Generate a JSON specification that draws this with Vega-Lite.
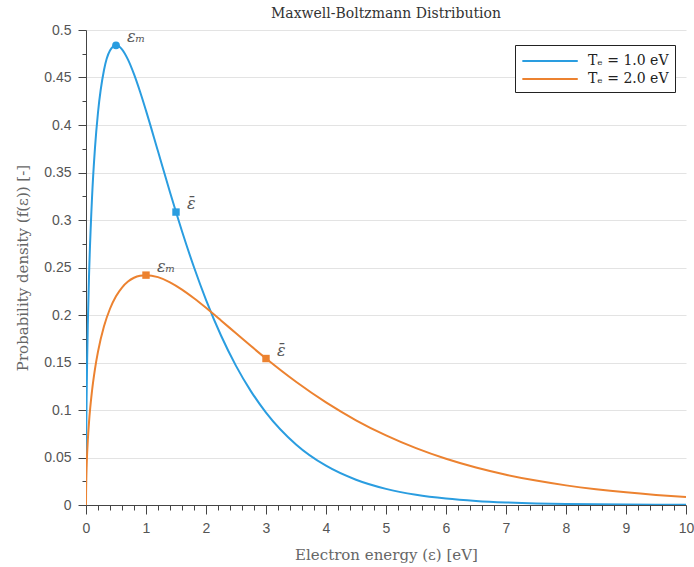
{
  "$schema": "https://vega.github.io/schema/vega-lite/v6.json",
  "autosize": {"type": "none"},
  "padding": {"left": 86, "top": 30, "right": 8, "bottom": 62},
  "width": 600,
  "height": 475,
  "title": {"text": "Maxwell-Boltzmann Distribution", "font": "DejaVu Serif", "fontSize": 14, "fontWeight": "normal", "color": "#333333", "offset": 2},
  "config": {
    "view": {"stroke": null},
    "axis": {"labelFont": "Liberation Sans", "labelFontSize": 14, "labelColor": "#555555", "titleFont": "DejaVu Serif", "titleFontSize": 15, "titleFontWeight": "normal", "titleColor": "#666666", "domainColor": "#444444", "tickColor": "#444444", "gridColor": "#e3e3e3"}
  },
  "resolve": {"axis": {"x": "independent", "y": "independent"}},
  "datasets": {
    "curves": [
      {"e": 0, "f": 0, "s": "T1"}, {"e": 0.001, "f": 0.035647, "s": "T1"}, {"e": 0.005, "f": 0.07939, "s": "T1"}, {"e": 0.01, "f": 0.11172, "s": "T1"}, {"e": 0.02, "f": 0.156417, "s": "T1"}, {"e": 0.03, "f": 0.189665, "s": "T1"}, {"e": 0.05, "f": 0.240007, "s": "T1"}, {"e": 0.1, "f": 0.322869, "s": "T1"}, {"e": 0.15, "f": 0.376146, "s": "T1"}, {"e": 0.2, "f": 0.413154, "s": "T1"}, {"e": 0.3, "f": 0.457854, "s": "T1"}, {"e": 0.4, "f": 0.478374, "s": "T1"}, {"e": 0.5, "f": 0.483941, "s": "T1"}, {"e": 0.6, "f": 0.479683, "s": "T1"}, {"e": 0.7, "f": 0.468811, "s": "T1"}, {"e": 0.8, "f": 0.453487, "s": "T1"}, {"e": 0.9, "f": 0.435223, "s": "T1"}, {"e": 1.0, "f": 0.415107, "s": "T1"}, {"e": 1.2, "f": 0.372299, "s": "T1"}, {"e": 1.4, "f": 0.329236, "s": "T1"}, {"e": 1.5, "f": 0.308361, "s": "T1"}, {"e": 1.6, "f": 0.288167, "s": "T1"}, {"e": 1.8, "f": 0.250243, "s": "T1"}, {"e": 2.0, "f": 0.215964, "s": "T1"}, {"e": 2.25, "f": 0.178395, "s": "T1"}, {"e": 2.5, "f": 0.14645, "s": "T1"}, {"e": 2.75, "f": 0.119623, "s": "T1"}, {"e": 3.0, "f": 0.097304, "s": "T1"}, {"e": 3.5, "f": 0.063746, "s": "T1"}, {"e": 4.0, "f": 0.041335, "s": "T1"}, {"e": 4.5, "f": 0.026592, "s": "T1"}, {"e": 5.0, "f": 0.017001, "s": "T1"}, {"e": 5.5, "f": 0.010815, "s": "T1"}, {"e": 6.0, "f": 0.006851, "s": "T1"}, {"e": 6.5, "f": 0.004325, "s": "T1"}, {"e": 7.0, "f": 0.002722, "s": "T1"}, {"e": 7.5, "f": 0.001709, "s": "T1"}, {"e": 8.0, "f": 0.001071, "s": "T1"}, {"e": 8.5, "f": 0.000669, "s": "T1"}, {"e": 9.0, "f": 0.000418, "s": "T1"}, {"e": 9.5, "f": 0.00026, "s": "T1"}, {"e": 10.0, "f": 0.000162, "s": "T1"},
      {"e": 0, "f": 0, "s": "T2"}, {"e": 0.001, "f": 0.012609, "s": "T2"}, {"e": 0.005, "f": 0.028139, "s": "T2"}, {"e": 0.01, "f": 0.039695, "s": "T2"}, {"e": 0.02, "f": 0.055858, "s": "T2"}, {"e": 0.03, "f": 0.06807, "s": "T2"}, {"e": 0.05, "f": 0.087004, "s": "T2"}, {"e": 0.1, "f": 0.120004, "s": "T2"}, {"e": 0.15, "f": 0.143346, "s": "T2"}, {"e": 0.2, "f": 0.161434, "s": "T2"}, {"e": 0.3, "f": 0.188073, "s": "T2"}, {"e": 0.4, "f": 0.206577, "s": "T2"}, {"e": 0.5, "f": 0.219696, "s": "T2"}, {"e": 0.6, "f": 0.228927, "s": "T2"}, {"e": 0.7, "f": 0.235209, "s": "T2"}, {"e": 0.8, "f": 0.239187, "s": "T2"}, {"e": 0.9, "f": 0.241323, "s": "T2"}, {"e": 1.0, "f": 0.241971, "s": "T2"}, {"e": 1.2, "f": 0.239841, "s": "T2"}, {"e": 1.4, "f": 0.234405, "s": "T2"}, {"e": 1.6, "f": 0.226744, "s": "T2"}, {"e": 1.8, "f": 0.217611, "s": "T2"}, {"e": 2.0, "f": 0.207554, "s": "T2"}, {"e": 2.25, "f": 0.194276, "s": "T2"}, {"e": 2.5, "f": 0.180722, "s": "T2"}, {"e": 2.75, "f": 0.167272, "s": "T2"}, {"e": 3.0, "f": 0.15418, "s": "T2"}, {"e": 3.5, "f": 0.129697, "s": "T2"}, {"e": 4.0, "f": 0.107982, "s": "T2"}, {"e": 4.5, "f": 0.089198, "s": "T2"}, {"e": 5.0, "f": 0.073225, "s": "T2"}, {"e": 5.5, "f": 0.059811, "s": "T2"}, {"e": 6.0, "f": 0.048652, "s": "T2"}, {"e": 6.5, "f": 0.039437, "s": "T2"}, {"e": 7.0, "f": 0.031873, "s": "T2"}, {"e": 7.5, "f": 0.025695, "s": "T2"}, {"e": 8.0, "f": 0.020667, "s": "T2"}, {"e": 8.5, "f": 0.016591, "s": "T2"}, {"e": 9.0, "f": 0.013296, "s": "T2"}, {"e": 9.5, "f": 0.010638, "s": "T2"}, {"e": 10.0, "f": 0.0085, "s": "T2"}
    ],
    "marks": [
      {"e": 0.5, "f": 0.483941, "s": "T1", "label": "εₘ", "kind": "max"},
      {"e": 1.5, "f": 0.308361, "s": "T1", "label": "ε̄", "kind": "mean"},
      {"e": 1.0, "f": 0.241971, "s": "T2", "label": "εₘ", "kind": "max"},
      {"e": 3.0, "f": 0.15418, "s": "T2", "label": "ε̄", "kind": "mean"}
    ]
  },
  "layer": [
    {
      "data": {"name": "curves"},
      "mark": {"type": "line", "opacity": 0},
      "encoding": {
        "x": {"field": "e", "type": "quantitative", "scale": {"domain": [0, 10], "nice": false},
          "axis": {"orient": "bottom", "title": null, "labels": false, "domain": false, "grid": false, "tickSize": 5,
            "values": [0.2,0.4,0.6,0.8,1.2,1.4,1.6,1.8,2.2,2.4,2.6,2.8,3.2,3.4,3.6,3.8,4.2,4.4,4.6,4.8,5.2,5.4,5.6,5.8,6.2,6.4,6.6,6.8,7.2,7.4,7.6,7.8,8.2,8.4,8.6,8.8,9.2,9.4,9.6,9.8]}},
        "y": {"field": "f", "type": "quantitative", "scale": {"domain": [0, 0.5], "nice": false},
          "axis": {"orient": "left", "title": null, "labels": false, "domain": false, "grid": false, "tickSize": 4,
            "values": [0.025,0.075,0.125,0.175,0.225,0.275,0.325,0.375,0.425,0.475]}}
      }
    },
    {
      "data": {"name": "curves"},
      "mark": {"type": "line", "strokeWidth": 2, "interpolate": "monotone", "clip": true},
      "encoding": {
        "x": {"field": "e", "type": "quantitative",
          "axis": {"orient": "bottom", "title": "Electron energy (ε) [eV]", "titlePadding": 12,
            "values": [0,1,2,3,4,5,6,7,8,9,10], "format": "d",
            "labelOverlap": false, "labelFlush": false, "labelPadding": 7, "tickSize": 9, "grid": false}},
        "y": {"field": "f", "type": "quantitative",
          "axis": {"orient": "left", "title": "Probability density (f(ε)) [-]", "titlePadding": 13,
            "values": [0,0.05,0.1,0.15,0.2,0.25,0.3,0.35,0.4,0.45,0.5], "format": ".2~f",
            "labelOverlap": false, "labelPadding": 7, "tickSize": 8, "grid": true,
            "gridOpacity": {"condition": {"test": "datum.value > 0", "value": 1}, "value": 0}}},
        "color": {"field": "s", "type": "nominal",
          "scale": {"domain": ["T1", "T2"], "range": ["#2a9de0", "#ec8230"]},
          "legend": {"title": null, "orient": "none", "legendX": 429, "legendY": 15,
            "labelExpr": "datum.value == 'T1' ? 'Tₑ = 1.0 eV' : 'Tₑ = 2.0 eV'",
            "labelFont": "DejaVu Serif", "labelFontSize": 14, "labelColor": "#222222",
            "symbolType": "M-1,0L5.4,0", "symbolSize": 300, "symbolStrokeWidth": 2, "symbolFillColor": "transparent",
            "strokeColor": "#222222", "fillColor": "#ffffff", "padding": 6, "rowPadding": 1, "labelOffset": 47}}
      }
    },
    {
      "data": {"name": "marks"},
      "transform": [{"filter": "datum.s == 'T1' && datum.kind == 'max'"}],
      "mark": {"type": "point", "shape": "circle", "filled": true, "size": 60, "opacity": 1},
      "encoding": {
        "x": {"field": "e", "type": "quantitative", "axis": null},
        "y": {"field": "f", "type": "quantitative", "axis": null},
        "color": {"field": "s", "type": "nominal", "legend": null}
      }
    },
    {
      "data": {"name": "marks"},
      "transform": [{"filter": "!(datum.s == 'T1' && datum.kind == 'max')"}],
      "mark": {"type": "point", "shape": "square", "filled": true, "size": 55, "opacity": 1},
      "encoding": {
        "x": {"field": "e", "type": "quantitative", "axis": null},
        "y": {"field": "f", "type": "quantitative", "axis": null},
        "color": {"field": "s", "type": "nominal", "legend": null}
      }
    },
    {
      "data": {"name": "marks"},
      "mark": {"type": "text", "align": "left", "baseline": "middle", "dx": 11, "dy": -8, "font": "DejaVu Serif", "fontStyle": "italic", "fontSize": 16, "color": "#555555"},
      "encoding": {
        "x": {"field": "e", "type": "quantitative", "axis": null},
        "y": {"field": "f", "type": "quantitative", "axis": null},
        "text": {"field": "label"}
      }
    }
  ]
}
